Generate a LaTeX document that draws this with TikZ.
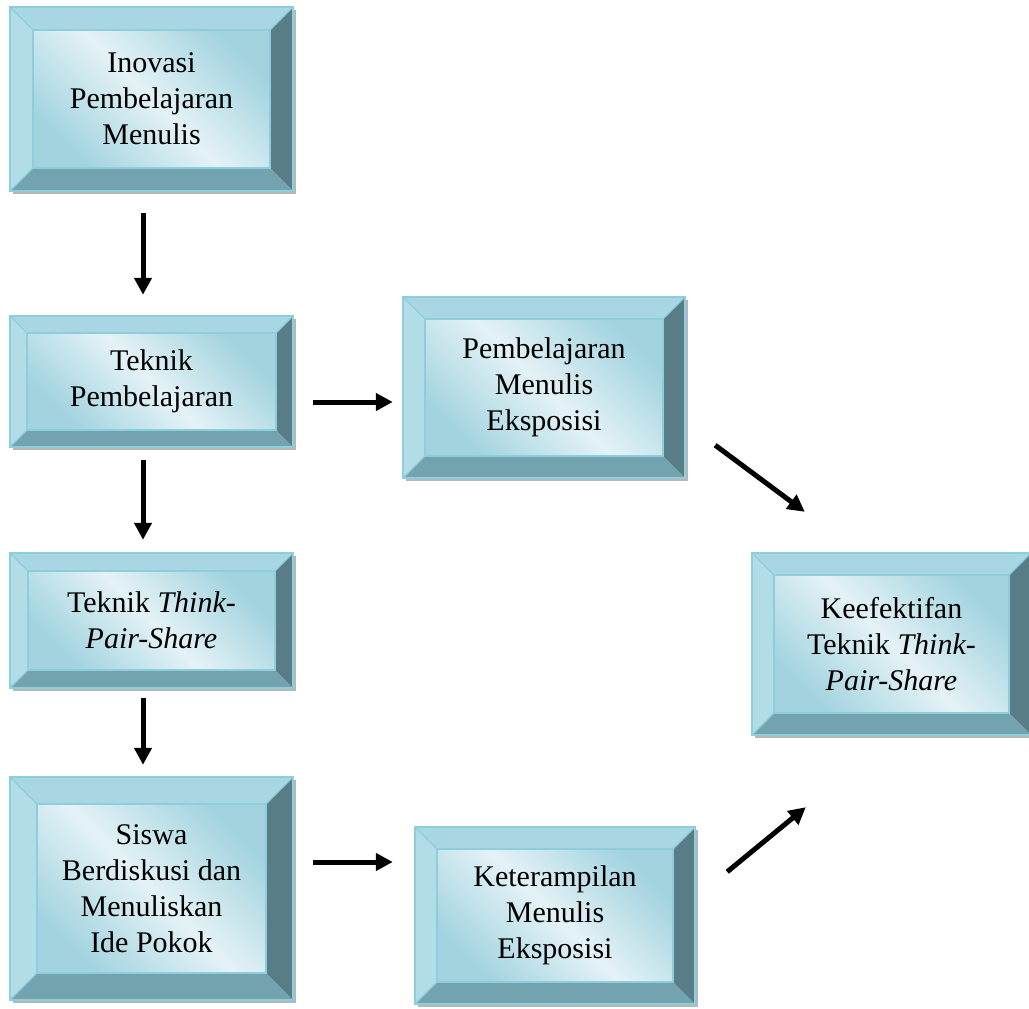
\documentclass[tikz,border=0pt]{standalone}
\usepackage{fontspec}
\setmainfont{Liberation Serif}
\usetikzlibrary{arrows.meta}
\definecolor{bvtop}{HTML}{A8D6E2}
\definecolor{bvleft}{HTML}{B2DCE6}
\definecolor{bvright}{HTML}{587D86}
\definecolor{bvbottom}{HTML}{73A3AE}
\definecolor{facelight}{HTML}{E4F2F6}
\definecolor{facedark}{HTML}{A2D3DF}
\definecolor{edgec}{HTML}{8DCDDC}
\definecolor{shadowc}{HTML}{B0B8BB}
\tikzset{
  bevedge/.style={draw=edgec, line width=1.2pt, line join=miter},
  faceshade/.style={top color=facedark, bottom color=facedark, middle color=facelight, shading angle=-45},
  boxtext/.style={inner sep=0pt, align=center, font=\fontsize{30}{36}\selectfont, text=black},
  arr/.style={line width=5pt, -{Triangle[length=17pt,width=17pt]}, black},
}
\newcommand\bevbox[7]{%
  \fill[shadowc] ({#2+3},{#3+3}) rectangle ({#4+3},{#5+3});
  \fill[bvtop] (#2,#3) -- (#4,#3) -- ({#4-#6},{#3+#6}) -- ({#2+#6},{#3+#6}) -- cycle;
  \fill[bvleft] (#2,#3) -- ({#2+#6},{#3+#6}) -- ({#2+#6},{#5-#6}) -- (#2,#5) -- cycle;
  \fill[bvright] (#4,#3) -- (#4,#5) -- ({#4-#6},{#5-#6}) -- ({#4-#6},{#3+#6}) -- cycle;
  \fill[bvbottom] (#2,#5) -- (#4,#5) -- ({#4-#6},{#5-#6}) -- ({#2+#6},{#5-#6}) -- cycle;
  \shade[faceshade] ({#2+#6},{#3+#6}) rectangle ({#4-#6},{#5-#6});
  \draw[bevedge] (#2,#3) rectangle (#4,#5);
  \draw[bevedge] ({#2+#6},{#3+#6}) rectangle ({#4-#6},{#5-#6});
  \draw[bevedge] (#2,#3) -- ({#2+#6},{#3+#6});
  \draw[bevedge] (#4,#3) -- ({#4-#6},{#3+#6});
  \draw[bevedge] (#2,#5) -- ({#2+#6},{#5-#6});
  \node[boxtext, minimum width={#4-#2}, minimum height={#5-#3}] (#1) at ({(#2+#4)/2},{(#3+#5)/2}) {#7};
}
\begin{document}
\begin{tikzpicture}[x=1pt,y=-1pt]
\useasboundingbox[fill=white] (0,0) rectangle (1029,1009);
\bevbox{b1}{10}{7}{293}{191}{23}{Inovasi\\Pembelajaran\\Menulis}
\bevbox{b2}{10}{316}{293}{447}{17}{Teknik\\Pembelajaran}
\bevbox{b3}{403}{297}{685}{478}{22}{Pembelajaran\\Menulis\\Eksposisi}
\bevbox{b4}{10}{553}{293}{688}{18}{Teknik \textit{Think-}\\\textit{Pair-Share}}
\bevbox{b5}{10}{777}{293}{1000}{27}{Siswa\\Berdiskusi dan\\Menuliskan\\Ide Pokok}
\bevbox{b6}{415}{827}{695}{1004}{22}{Keterampilan\\Menulis\\Eksposisi}
\bevbox{b7}{752}{553}{1031}{735}{22}{Keefektifan\\Teknik \textit{Think-}\\\textit{Pair-Share}}
\draw[arr, shorten <=22pt, shorten >=21pt] ([xshift=-8.5pt]b1.south) -- ([xshift=-8.5pt]b2.north);
\draw[arr, shorten <=13pt, shorten >=13pt] ([xshift=-8.5pt]b2.south) -- ([xshift=-8.5pt]b4.north);
\draw[arr, shorten <=10pt, shorten >=12pt] ([xshift=-8.5pt]b4.south) -- ([xshift=-8.5pt]b5.north);
\draw[arr, shorten <=20pt, shorten >=10pt] ([yshift=-20.5pt]b2.east) -- ([yshift=-14.5pt]b3.west);
\draw[arr, shorten <=20pt, shorten >=22pt] ([yshift=26.5pt]b5.east) -- ([yshift=53.5pt]b6.west);
\draw[arr] ([xshift=30pt,yshift=33pt]b3.south east) -- ([xshift=53pt,yshift=41pt]b7.north west);
\draw[arr] ([xshift=32pt,yshift=-45pt]b6.north east) -- ([xshift=54pt,yshift=-72pt]b7.south west);
\end{tikzpicture}
\end{document}
